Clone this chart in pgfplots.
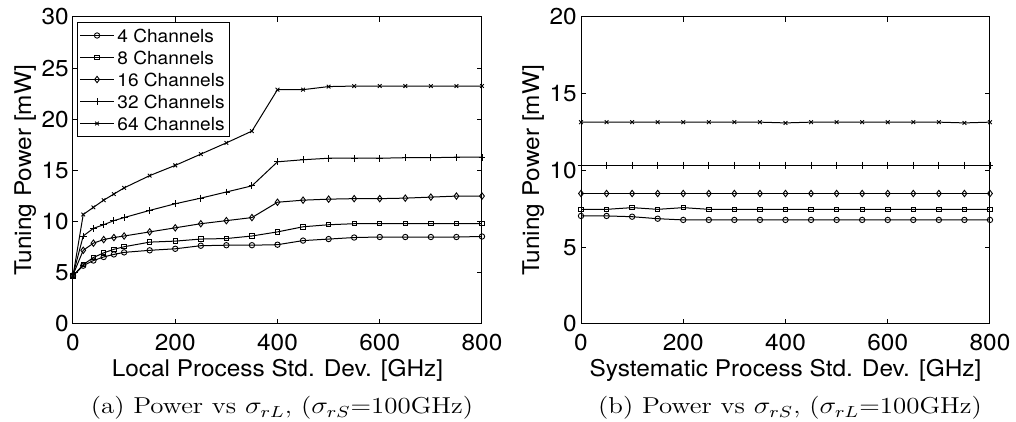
\documentclass[border=0pt]{standalone}
\usepackage{fontspec}
\usepackage{graphicx}
\usepackage{pgfplots}
\pgfplotsset{compat=1.18}
\newfontfamily\hel[FakeStretch=1.06]{TeX Gyre Heros}

% left panel: power vs local std. dev.
\pgfplotstableread{
x    c4   c8   c16  c32  c64
0    4.7  4.7  4.8  4.8  4.7
20   5.7  5.8  7.2  8.6  10.7
40   6.2  6.5  7.9  9.35 11.4
60   6.55 6.95 8.25 9.7  12.1
80   6.8  7.3  8.45 10.1 12.7
100  7.0  7.55 8.6  10.4 13.3
150  7.2  8.0  9.0  11.1 14.5
200  7.35 8.1  9.4  11.75 15.5
250  7.65 8.3  9.8  12.3 16.6
300  7.7  8.35 10.1 12.9 17.7
350  7.7  8.6  10.4 13.5 18.85
400  7.75 9.0  11.9 15.85 22.9
450  8.15 9.5  12.1 16.05 22.9
500  8.3  9.7  12.2 16.2 23.2
550  8.45 9.8  12.25 16.2 23.25
600  8.5  9.8  12.25 16.2 23.25
650  8.5  9.8  12.3 16.25 23.25
700  8.5  9.8  12.4 16.25 23.25
750  8.5  9.8  12.5 16.3 23.25
800  8.55 9.8  12.5 16.3 23.25
}\localdata

% right panel: power vs systematic std. dev.
\pgfplotstableread{
x    c4   c8   c16  c32  c64
0    7.04 7.47 8.5  10.35 13.15
50   7.04 7.47 8.5  10.35 13.15
100  6.99 7.58 8.5  10.35 13.15
150  6.86 7.47 8.5  10.35 13.15
200  6.78 7.58 8.5  10.35 13.15
250  6.78 7.47 8.5  10.35 13.15
300  6.78 7.47 8.5  10.35 13.15
350  6.78 7.47 8.5  10.35 13.15
400  6.78 7.47 8.5  10.35 13.1
450  6.78 7.47 8.5  10.35 13.15
500  6.78 7.47 8.5  10.35 13.15
550  6.78 7.47 8.5  10.35 13.15
600  6.78 7.47 8.5  10.35 13.15
650  6.78 7.47 8.5  10.35 13.15
700  6.78 7.47 8.5  10.35 13.15
750  6.78 7.47 8.5  10.35 13.1
800  6.78 7.47 8.5  10.35 13.15
}\sysdata

\pgfplotsset{
  mat/.style={
    scale only axis,
    width=204.5pt, height=153.5pt,
    xmin=0, xmax=800, ymin=0,
    xtick={0,200,...,800},
    tick align=inside,
    major tick length=2.5pt,
    axis line style={line width=0.5pt},
    every tick/.style={black, line width=0.5pt},
    tick label style={font=\hel\fontsize{11.5}{12}\selectfont},
    /pgf/number format/assume math mode=true,
    xticklabel style={yshift=-1.6pt},
    yticklabel style={xshift=1.4pt},
    label style={font=\hel\fontsize{11.5}{13}\selectfont},
    xlabel style={at={(axis description cs:0.5,0)}, yshift=-23pt, anchor=center},
    ylabel style={at={(axis description cs:-0.117,0.5)}, anchor=center},
    clip=false,
  },
  ln/.style={black, line width=0.5pt, mark options={solid, fill=none, line width=0.45pt}},
}

\begin{document}
\begin{tikzpicture}
\begin{axis}[mat, at={(0pt,0pt)}, anchor=south west,
  ymax=30, ytick={0,5,...,30},
  xlabel={Local Process Std. Dev. [GHz]},
  ylabel={Tuning Power [mW]},
  legend cell align=left,
  legend style={at={(axis description cs:0,1)}, anchor=north west, xshift=2pt, yshift=-2.5pt,
    draw=black, line width=0.5pt, fill=white,
    font=\hel\fontsize{9}{10}\selectfont,
    inner xsep=1pt, inner ysep=1pt, row sep=0pt,
    nodes={inner sep=1.4pt, text height=7.6pt, text depth=0.6pt}},
]
\addplot[ln, mark=o, mark size=1.35pt] table[x=x, y=c4] {\localdata};
\addplot[ln, mark=square, mark size=1.1pt] table[x=x, y=c8] {\localdata};
\addplot[ln, mark=diamond, mark size=1.6pt] table[x=x, y=c16] {\localdata};
\addplot[ln, mark=+, mark size=1.7pt] table[x=x, y=c32] {\localdata};
\addplot[ln, mark=x, mark size=1.3pt] table[x=x, y=c64] {\localdata};
\legend{4 Channels, 8 Channels, 16 Channels, 32 Channels, 64 Channels}
\end{axis}

\begin{axis}[mat, at={(254pt,0pt)}, anchor=south west,
  ymax=20, ytick={0,5,...,20},
  xlabel={Systematic Process Std. Dev. [GHz]},
  ylabel={Tuning Power [mW]},
]
\addplot[ln, mark=o, mark size=1.35pt] table[x=x, y=c4] {\sysdata};
\addplot[ln, mark=square, mark size=1.1pt] table[x=x, y=c8] {\sysdata};
\addplot[ln, mark=diamond, mark size=1.6pt] table[x=x, y=c16] {\sysdata};
\addplot[ln, mark=+, mark size=1.7pt] table[x=x, y=c32] {\sysdata};
\addplot[ln, mark=x, mark size=1.3pt] table[x=x, y=c64] {\sysdata};
\end{axis}

\node[anchor=center] at (104.5pt,-42pt)
  {\scalebox{1.17}[1]{\fontsize{11.5}{13}\selectfont (a) Power vs $\sigma_{rL}$, ($\sigma_{rS}$=100GHz)}};
\node[anchor=center] at (358.5pt,-42pt)
  {\scalebox{1.17}[1]{\fontsize{11.5}{13}\selectfont (b) Power vs $\sigma_{rS}$, ($\sigma_{rL}$=100GHz)}};

\pgfresetboundingbox
\path (-36.5pt,-49pt) rectangle (471.5pt,162pt);
\end{tikzpicture}
\end{document}
